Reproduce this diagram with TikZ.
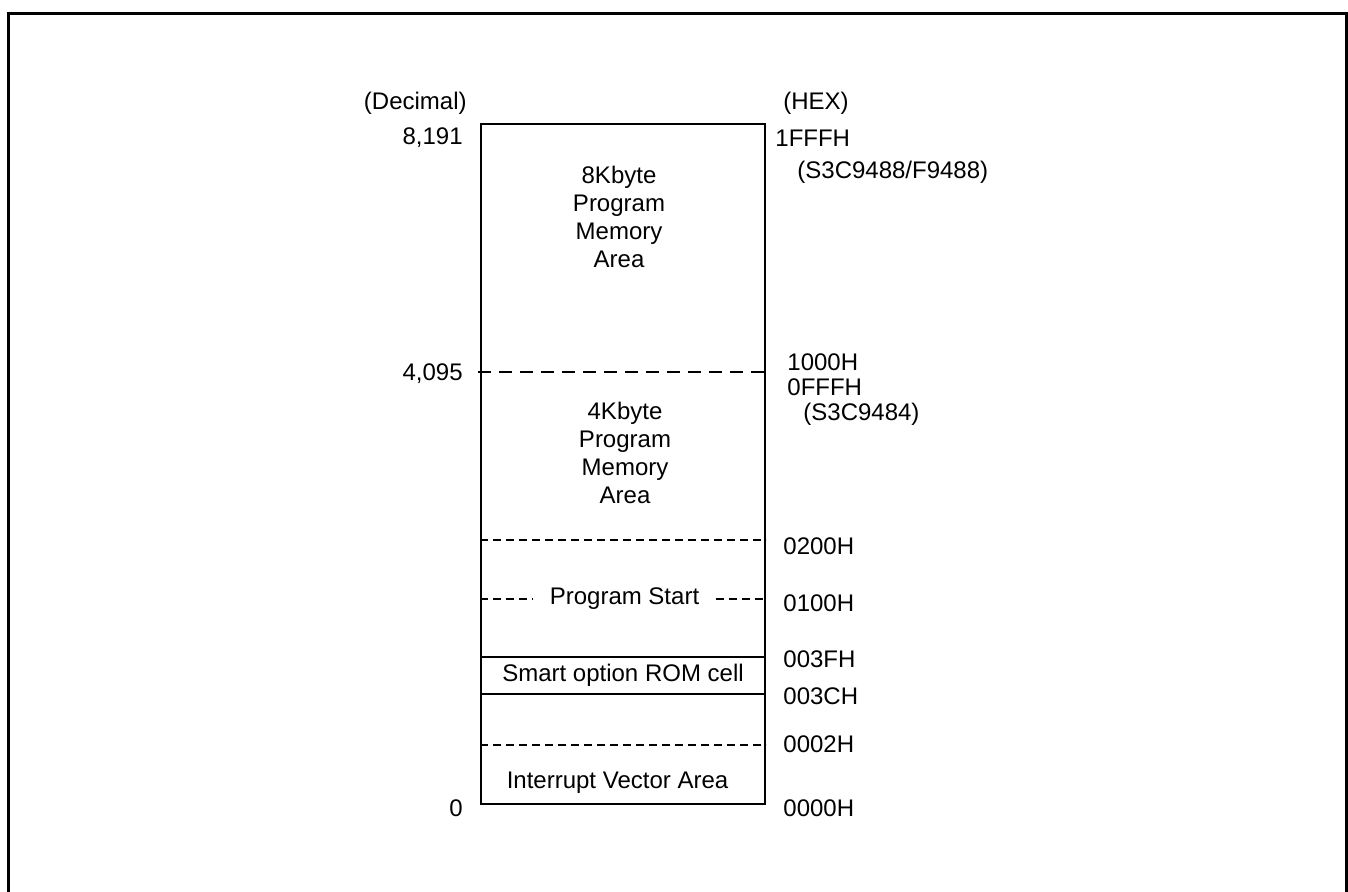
\documentclass[tikz,border=0pt]{standalone}
\usepackage{fontspec}
\setmainfont{Liberation Sans}

\begin{document}
\begin{tikzpicture}[
  x=0.5pt, y=-0.5pt,
  every node/.style={font=\fontsize{12}{14}\selectfont},
  frame/.style={line width=1.5pt},
  memory/.style={rectangle, draw, line width=1pt, minimum width=142pt, minimum height=340pt, inner sep=0pt},
  cell/.style={rectangle, draw, line width=1pt, minimum width=142pt, minimum height=18.5pt, inner sep=0pt},
  area/.style={align=center, inner sep=0pt},
  hexlabel/.style={anchor=base west, inner sep=0pt},
  declabel/.style={anchor=base east, inner sep=0pt},
  longdash/.style={line width=0.75pt, dash pattern=on 6.5pt off 4pt},
  shortdash/.style={line width=0.75pt, dash pattern=on 4pt off 2.5pt}
]
  \useasboundingbox (0,0) rectangle (1348,891);
  % outer frame
  \draw[frame] (8,900) -- (8,13.5) -- (1346,13.5) -- (1346,900);

  % memory map
  \node[memory] (mem) at (623,464) {};
  \node[area] (area8k) at (619,217) {8Kbyte\\Program\\Memory\\Area};
  \node[area] (area4k) at (625,452.5) {4Kbyte\\Program\\Memory\\Area};
  \node[cell] (smart) at (623,675.5) {Smart option ROM cell};
  \node[area, anchor=base] (vector) at (617.5,788) {Interrupt Vector Area};
  \node[inner xsep=8pt, inner ysep=0pt] (start) at (624.5,599) {Program Start};

  % boundaries
  \coordinate (b1000) at (478,372);
  \coordinate (b0200) at (0,540);
  \coordinate (b0002) at (0,745);
  \draw[longdash] (b1000) -- (mem.east |- b1000);
  \draw[shortdash] (mem.west |- b0200) -- (mem.east |- b0200);
  \draw[shortdash] (mem.west |- start) -- (start.west);
  \draw[shortdash] (start.east) -- (mem.east |- start);
  \draw[shortdash] (mem.west |- b0002) -- (mem.east |- b0002);

  % decimal addresses
  \node[declabel] (decimal) at (467,109) {(Decimal)};
  \node[declabel] (d8191) at (463,144) {8,191};
  \node[declabel] (d4095) at (463,380) {4,095};
  \node[declabel] (d0) at (463,816) {0};

  % hex addresses
  \node[hexlabel] (hex) at (783,109) {(HEX)};
  \node[hexlabel] (h1fff) at (775,146) {1FFFH};
  \node[hexlabel] (chip8k) at (797,178) {(S3C9488/F9488)};
  \node[hexlabel] (h1000) at (787,370) {1000H};
  \node[hexlabel] (h0fff) at (787,395) {0FFFH};
  \node[hexlabel] (chip4k) at (803,420) {(S3C9484)};
  \node[hexlabel] (h0200) at (783,554) {0200H};
  \node[hexlabel] (h0100) at (783,611) {0100H};
  \node[hexlabel] (h003f) at (783,667) {003FH};
  \node[hexlabel] (h003c) at (783,704) {003CH};
  \node[hexlabel] (h0002) at (783,752) {0002H};
  \node[hexlabel] (h0000) at (783,816) {0000H};
\end{tikzpicture}
\end{document}
